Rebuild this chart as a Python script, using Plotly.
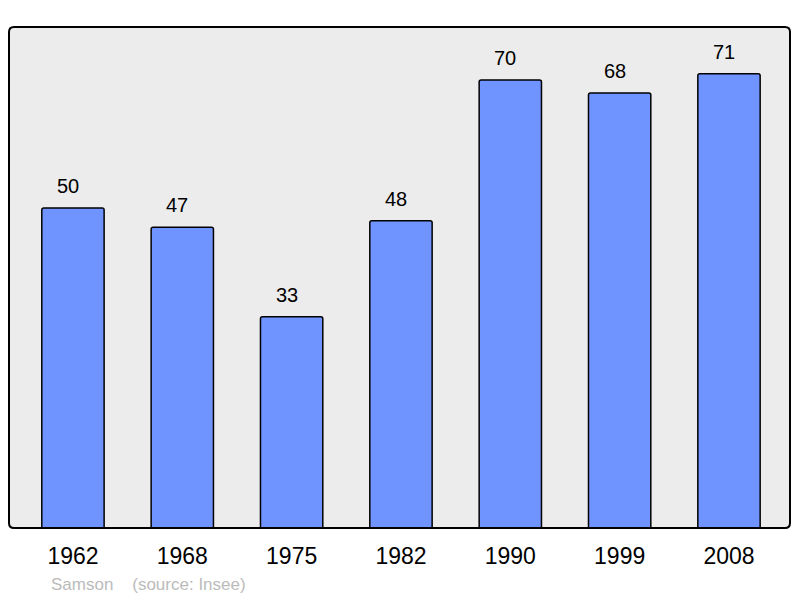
import plotly.graph_objects as go

years = ["1962", "1968", "1975", "1982", "1990", "1999", "2008"]
population = [50, 47, 33, 48, 70, 68, 71]

xpos = list(range(len(years)))

fig = go.Figure()
fig.add_trace(go.Bar(
    x=xpos, y=population, width=0.57,
    marker=dict(color="#7094FF", line=dict(color="#000000", width=1.5), cornerradius=2),
    hoverinfo="skip",
))

for xi, v in zip(xpos, population):
    fig.add_annotation(x=xi, y=v, text=str(v), showarrow=False,
                       yanchor="bottom", yshift=9, xshift=-5,
                       font=dict(family="Liberation Sans, Arial", size=20, color="#000"))

fig.add_annotation(xref="paper", yref="paper", x=0.051, y=-0.112, xanchor="left", yanchor="middle",
                   text="Samson&nbsp;&nbsp;&nbsp;&nbsp;(source: Insee)", showarrow=False,
                   font=dict(family="Liberation Sans, Arial", size=17, color="#BBBBBB"))

# rounded frame
rx, ry = 5 / 781, 5 / 501
path = (f"M {rx},0 L {1-rx},0 Q 1,0 1,{ry} L 1,{1-ry} Q 1,1 {1-rx},1 "
        f"L {rx},1 Q 0,1 0,{1-ry} L 0,{ry} Q 0,0 {rx},0 Z")
fig.add_shape(type="path", xref="paper", yref="paper", path=path,
              line=dict(color="#000000", width=2), layer="above")

fig.update_layout(
    width=792, height=590,
    margin=dict(l=1, r=10, t=19, b=70),
    paper_bgcolor="#FFFFFF", plot_bgcolor="#ECECEC",
    showlegend=False,
    xaxis=dict(range=[-0.585, 6.558], tickvals=xpos, ticktext=years, showgrid=False,
               zeroline=False, showline=False, ticks="", ticklabelstandoff=12,
               tickfont=dict(family="Liberation Sans, Arial", size=23, color="#000")),
    yaxis=dict(range=[0, 78.3], showgrid=False, zeroline=False, showticklabels=False,
               showline=False, ticks=""),
)

fig.write_html("out.html")
